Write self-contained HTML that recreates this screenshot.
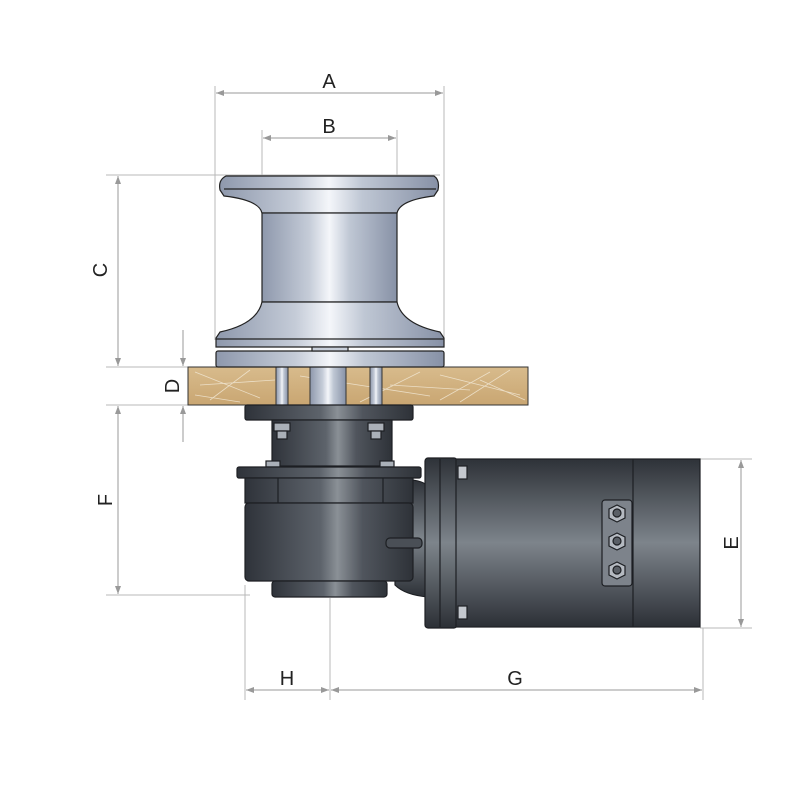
<!DOCTYPE html>
<html><head><meta charset="utf-8"><style>html,body{margin:0;padding:0;background:#fff}svg{display:block}</style></head>
<body>
<svg width="800" height="800" viewBox="0 0 800 800" xmlns="http://www.w3.org/2000/svg">
<defs>
<linearGradient id="cap" x1="0" x2="1" y1="0" y2="0">
<stop offset="0" stop-color="#8e98ac"/><stop offset="0.35" stop-color="#c5ccd8"/><stop offset="0.5" stop-color="#f4f6fa"/><stop offset="0.65" stop-color="#bfc7d4"/><stop offset="1" stop-color="#8791a6"/></linearGradient>
<linearGradient id="dk" x1="0" x2="1" y1="0" y2="0">
<stop offset="0" stop-color="#2f333a"/><stop offset="0.45" stop-color="#5d636b"/><stop offset="0.55" stop-color="#8a9096"/><stop offset="0.7" stop-color="#50555d"/><stop offset="1" stop-color="#2e3238"/></linearGradient>
<linearGradient id="dkv" x1="0" x2="0" y1="0" y2="1">
<stop offset="0" stop-color="#2e3238"/><stop offset="0.5" stop-color="#7d848b"/><stop offset="1" stop-color="#2c3036"/></linearGradient>
<linearGradient id="deck" x1="0" x2="0" y1="0" y2="1">
<stop offset="0" stop-color="#d8bb8c"/><stop offset="1" stop-color="#c9a672"/></linearGradient>
<marker id="ar" markerWidth="8" markerHeight="6" refX="8" refY="3" orient="auto-start-reverse" markerUnits="userSpaceOnUse"><path d="M0,0 L8,3 L0,6z" fill="#999"/></marker>
</defs>
<g stroke="#b8b8b8" stroke-width="1" fill="none">
<line x1="215" y1="86" x2="215" y2="340"/><line x1="444" y1="86" x2="444" y2="340"/>
<line x1="262" y1="130" x2="262" y2="190"/><line x1="397" y1="130" x2="397" y2="190"/>
<line x1="106" y1="175" x2="440" y2="175"/>
<line x1="106" y1="367" x2="200" y2="367"/><line x1="106" y1="405" x2="200" y2="405"/>
<line x1="106" y1="595" x2="250" y2="595"/>
<line x1="700" y1="459" x2="752" y2="459"/><line x1="700" y1="628" x2="752" y2="628"/>
<line x1="245" y1="585" x2="245" y2="700"/><line x1="330" y1="598" x2="330" y2="700"/><line x1="703" y1="628" x2="703" y2="700"/>
</g>
<g stroke="#999" stroke-width="1" fill="none">
<line x1="216" y1="93" x2="443" y2="93" marker-start="url(#ar)" marker-end="url(#ar)"/>
<line x1="263" y1="138" x2="396" y2="138" marker-start="url(#ar)" marker-end="url(#ar)"/>
<line x1="118" y1="176" x2="118" y2="366" marker-start="url(#ar)" marker-end="url(#ar)"/>
<line x1="183" y1="330" x2="183" y2="366" marker-end="url(#ar)"/>
<line x1="183" y1="442" x2="183" y2="406" marker-end="url(#ar)"/>
<line x1="118" y1="406" x2="118" y2="594" marker-start="url(#ar)" marker-end="url(#ar)"/>
<line x1="741" y1="460" x2="741" y2="627" marker-start="url(#ar)" marker-end="url(#ar)"/>
<line x1="246" y1="690" x2="329" y2="690" marker-start="url(#ar)" marker-end="url(#ar)"/>
<line x1="331" y1="690" x2="702" y2="690" marker-start="url(#ar)" marker-end="url(#ar)"/>
</g>
<g font-family="Liberation Sans, sans-serif" font-size="20" fill="#222" text-anchor="middle">
<text x="329" y="88">A</text><text x="329" y="133">B</text>
<text x="287" y="685">H</text><text x="515" y="685">G</text>
<text transform="translate(107,270) rotate(-90)">C</text>
<text transform="translate(179,386) rotate(-90)">D</text>
<text transform="translate(112,500) rotate(-90)">F</text>
<text transform="translate(738,543) rotate(-90)">E</text>
</g>
<!-- deck -->
<rect x="188" y="367" width="340" height="38" fill="url(#deck)" stroke="#333" stroke-width="1"/>
<g stroke="#f3ead8" stroke-width="0.8" fill="none" opacity="0.8">
<path d="M195,372 L260,398 M210,400 L250,370 M300,376 L430,396 M420,372 L360,402 M440,375 L520,395 M460,402 L510,370 M480,380 L525,400 M200,385 L275,380 M390,385 L470,390 M195,395 L240,402 M490,372 L440,400"/>
</g>
<!-- posts -->
<rect x="276" y="367" width="12" height="38" fill="url(#cap)" stroke="#333"/>
<rect x="310" y="367" width="36" height="38" fill="url(#cap)" stroke="#333"/>
<rect x="370" y="367" width="12" height="38" fill="url(#cap)" stroke="#333"/>
<!-- capstan -->
<g stroke="#222" stroke-width="1.2">
<path d="M226,176 L434,176 Q440,180 438,190 L434,196 Q400,200 397,213 L262,213 Q259,200 224,196 L220,190 Q218,180 226,176z" fill="url(#cap)"/>
<line x1="224" y1="189" x2="436" y2="189"/>
<rect x="262" y="213" width="135" height="89" fill="url(#cap)"/>
<path d="M262,302 L397,302 Q402,324 440,332 L444,338 L444,347 L216,347 L216,338 L220,332 Q257,324 262,302z" fill="url(#cap)"/>
<line x1="216" y1="339" x2="444" y2="339"/>
<rect x="216" y="351" width="228" height="16" rx="2" fill="url(#cap)"/>
<rect x="312" y="347" width="36" height="4" fill="#c8cfda"/>
</g>
<!-- below deck -->
<g stroke="#1d1f23" stroke-width="1.2">
<rect x="245" y="405" width="168" height="15" rx="2" fill="url(#dk)"/>
<rect x="272" y="420" width="120" height="46" fill="url(#dk)"/>
<rect x="274" y="423" width="16" height="8" fill="#aab0b8"/><rect x="277" y="431" width="10" height="8" fill="#aab0b8"/>
<rect x="368" y="423" width="16" height="8" fill="#aab0b8"/><rect x="371" y="431" width="10" height="8" fill="#aab0b8"/>
<rect x="266" y="461" width="14" height="6" fill="#aab0b8"/><rect x="380" y="461" width="14" height="6" fill="#aab0b8"/>
<path d="M395,480 Q425,478 428,488 L428,597 Q405,595 395,585z" fill="url(#dkv)"/>
<rect x="237" y="467" width="184" height="11" rx="2" fill="url(#dk)"/>
<rect x="245" y="478" width="168" height="25" fill="url(#dk)"/>
<line x1="278" y1="478" x2="278" y2="503"/><line x1="383" y1="478" x2="383" y2="503"/>
<rect x="245" y="503" width="168" height="78" rx="4" fill="url(#dk)"/>
<rect x="272" y="581" width="115" height="16" rx="3" fill="url(#dk)"/>
<rect x="386" y="538" width="36" height="10" rx="4" fill="#4a4f56"/>
<rect x="425" y="458" width="32" height="170" rx="3" fill="url(#dkv)"/>
<line x1="440" y1="459" x2="440" y2="627"/>
<rect x="456" y="459" width="244" height="168" fill="url(#dkv)"/>
<line x1="633" y1="459" x2="633" y2="627"/>
<rect x="458" y="466" width="9" height="13" fill="#c4c8ce"/>
<rect x="458" y="606" width="9" height="13" fill="#c4c8ce"/>
<rect x="602" y="500" width="30" height="86" rx="3" fill="#7d838b"/>
<g fill="#b5bac1"><polygon points="617,505 625,509 625,518 617,522 609,518 609,509"/><polygon points="617,533 625,537 625,546 617,550 609,546 609,537"/><polygon points="617,562 625,566 625,575 617,579 609,575 609,566"/></g>
<g fill="#5a5f66"><circle cx="617" cy="513" r="4"/><circle cx="617" cy="541" r="4"/><circle cx="617" cy="570" r="4"/></g>
</g>
</svg>
</body></html>
